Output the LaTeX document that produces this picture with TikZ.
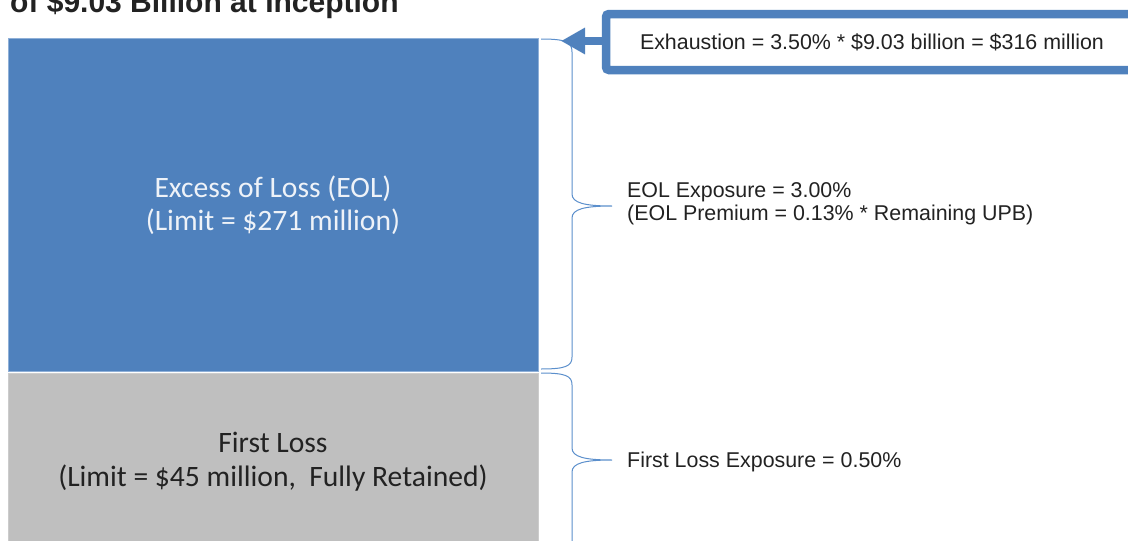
\documentclass[tikz,border=0pt]{standalone}
\usepackage{fontspec}
\setmainfont{Liberation Sans}
\newfontfamily\calfont{Carlito}
\usetikzlibrary{arrows.meta}
\definecolor{offblue}{HTML}{4F81BD}
\definecolor{brblue}{HTML}{5B8FCC}
\definecolor{edgeblue}{HTML}{8FB0D8}
\definecolor{flgray}{HTML}{BFBFBF}
\definecolor{txtdark}{HTML}{222222}
\definecolor{txtlight}{HTML}{EEF2F8}
\tikzset{
  layer/.style={draw=edgeblue, line width=0.8pt, inner sep=0pt, anchor=north west},
  caltext/.style={font=\calfont\fontsize{29.6}{32}\selectfont, anchor=base, inner sep=0pt},
  lbl/.style={font=\fontsize{21.4}{23}\selectfont, text=txtdark, anchor=base west, inner sep=0pt},
  brace/.style={draw=brblue, line width=1pt},
}
\begin{document}
\begin{tikzpicture}[x=1pt,y=-1pt]
\useasboundingbox (0,0) rectangle (1128,541);
\clip (0,0) rectangle (1128,541);
\fill[white] (0,0) rectangle (1128,541);
% title (cut off at top)
\node[font=\bfseries\fontsize{30}{32}\selectfont, text=txtdark, anchor=base west, inner sep=0pt] (title) at (10,12.5) {of \$9.03 Billion at Inception};
% layers
\node[layer, fill=offblue, minimum width=530pt, minimum height=333pt] (eol) at (8,38) {};
\node[layer, fill=flgray, draw=flgray!80!white, minimum width=530pt, minimum height=180pt] (fl) at (8,373) {};
\node[caltext, text=txtlight] (eolt1) at (273,197) {Excess of Loss (EOL)};
\node[caltext, text=txtlight] (eolt2) at (273,230) {(Limit = \$271 million)};
\node[caltext, text=txtdark] (flt1) at (273,452.5) {First Loss};
\node[caltext, text=txtdark] (flt2) at (273,486) {(Limit = \$45 million,\ \ Fully Retained)};
% braces
\coordinate (b1a) at (541,39);
\coordinate (b1tip) at (612,206);
\coordinate (b1b) at (541,369);
\coordinate (b2a) at (541,373);
\coordinate (b2tip) at (612,460);
\coordinate (b2b) at (572,548);
\draw[brace] (b1a) .. controls (566,39) and (572,42) .. (572,52) -- (572,194)
  .. controls (572,203) and (585,206) .. (b1tip)
  .. controls (585,206) and (572,209) .. (572,218) -- (572,357)
  .. controls (572,366) and (566,369) .. (b1b);
\draw[brace] (b2a) .. controls (566,373) and (572,376) .. (572,385) -- (572,448)
  .. controls (572,457) and (585,460) .. (b2tip)
  .. controls (585,460) and (572,463) .. (572,472) -- (b2b);
% labels
\node[lbl] (eolx1) at (627,197.5) {EOL Exposure = 3.00\%};
\node[lbl] (eolx2) at (627,220.5) {(EOL Premium = 0.13\% * Remaining UPB)};
\node[lbl] (flx) at (627,467.5) {First Loss Exposure = 0.50\%};
% exhaustion box
\node[draw=offblue, line width=8.5pt, rounded corners=3pt, fill=white, minimum width=532pt, minimum height=56pt, inner sep=0pt] (box) at (872,42) {};
\node[font=\fontsize{21.4}{23}\selectfont, text=txtdark, anchor=base, inner sep=0pt] (boxt) at (872,49.5) {Exhaustion = 3.50\% * \$9.03 billion = \$316 million};
\coordinate (tip) at (561,41);
\draw[offblue, line width=8pt, -{Triangle[length=24pt,width=25pt]}] (box.west |- tip) -- (tip);
\end{tikzpicture}
\end{document}
